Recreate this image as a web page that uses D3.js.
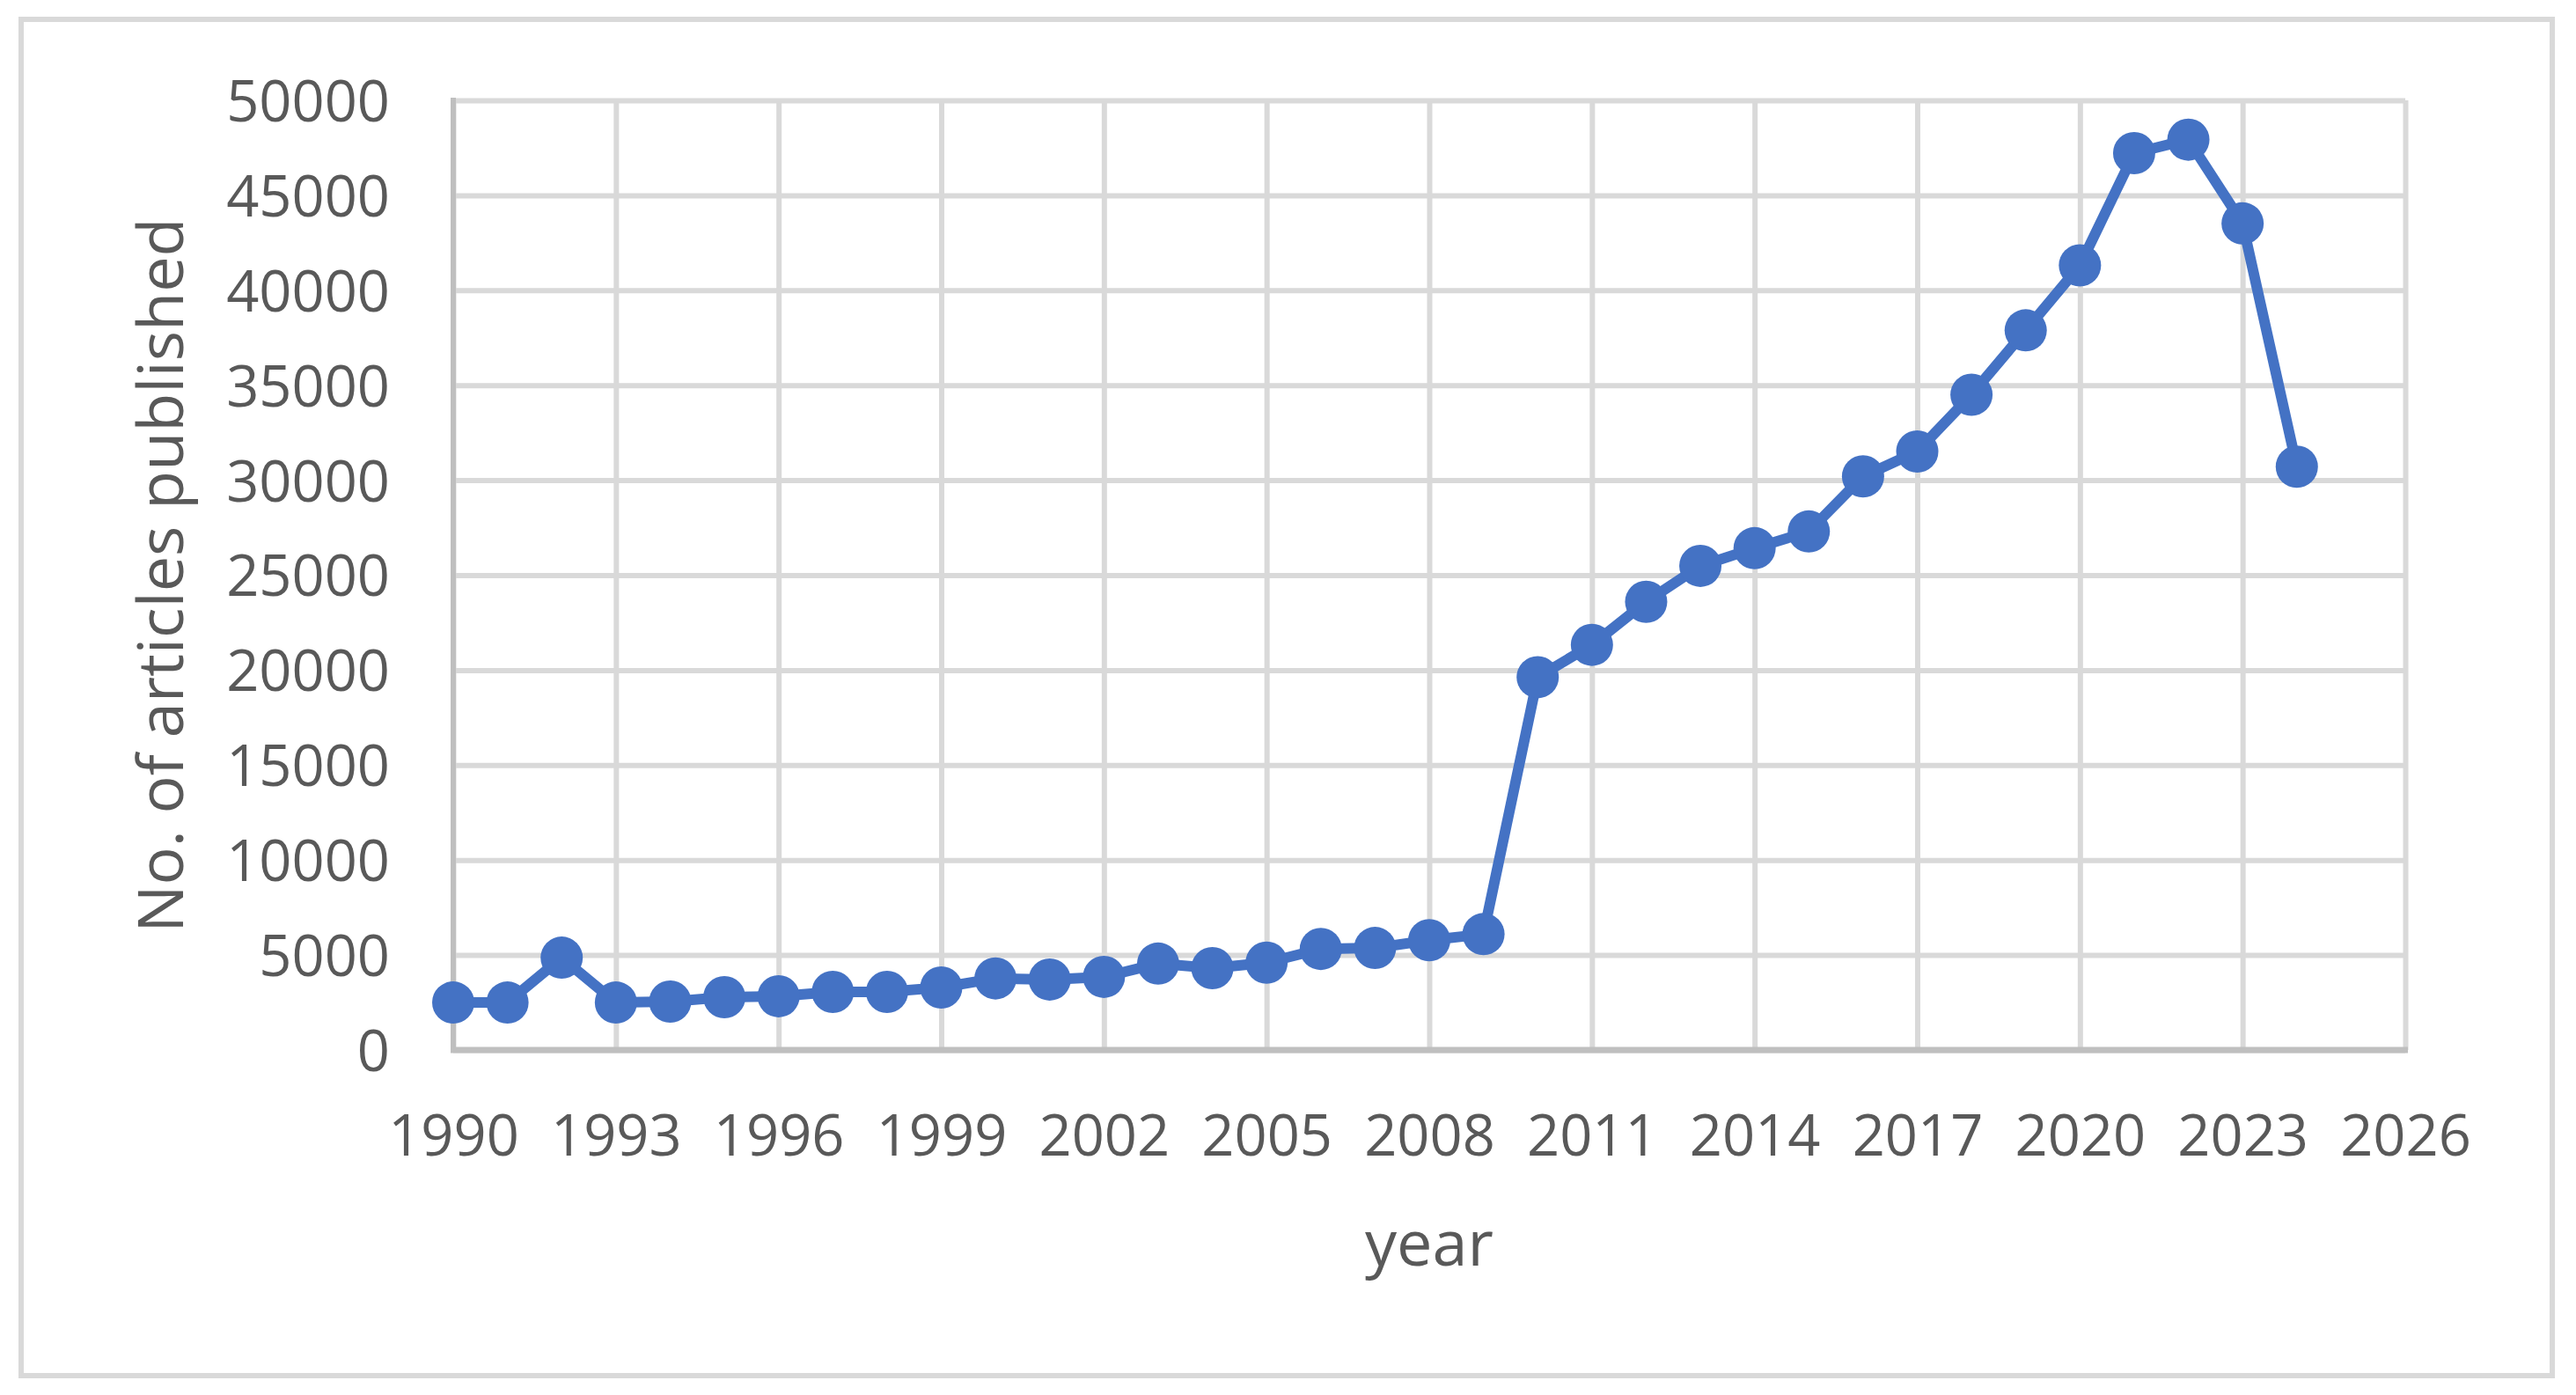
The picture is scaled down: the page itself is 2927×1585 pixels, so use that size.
<!DOCTYPE html>
<html>
<head>
<meta charset="utf-8">
<script src="https://cdn.jsdelivr.net/npm/d3@7"></script>
<style>
  body { margin: 0; background: #fff; }
  text { font-family: "Open Sans", "Noto Sans", sans-serif; fill: #595959; }
</style>
</head>
<body>
<div id="container"></div>
<script>
// data
const years = [1990, 1991, 1992, 1993, 1994, 1995, 1996, 1997, 1998, 1999,
               2000, 2001, 2002, 2003, 2004, 2005, 2006, 2007, 2008, 2009,
               2010, 2011, 2012, 2013, 2014, 2015, 2016, 2017, 2018, 2019,
               2020, 2021, 2022, 2023, 2024];
const articles = [2500, 2500, 4860, 2500, 2550, 2780, 2830, 3060, 3060, 3290,
                  3770, 3710, 3850, 4550, 4310, 4600, 5320, 5370, 5780, 6100,
                  19630, 21330, 23600, 25490, 26420, 27300, 30200, 31510, 34500, 37890,
                  41310, 47220, 47930, 43520, 30710];
const xTicks = [1990, 1993, 1996, 1999, 2002, 2005, 2008, 2011, 2014, 2017, 2020, 2023, 2026];
const yTicks = [0, 5000, 10000, 15000, 20000, 25000, 30000, 35000, 40000, 45000, 50000];
const xTitle = "year";
const yTitle = "No. of articles published";

const w = 2927; // canvas width
const h = 1585; // canvas height
const pL = 515, pR = 2733, pT = 114, pB = 1193; // plot area

const data = years.map((y, i) => ({ year: y, n: articles[i] }));

const svg = d3.select("#container").append("svg").attr("width", w).attr("height", h);

// outer chart border
svg.append("rect").attr("x", 24).attr("y", 22).attr("width", 2876).attr("height", 1541)
    .attr("fill", "#fff").attr("stroke", "#d9d9d9").attr("stroke-width", 6);

const xScale = d3.scaleLinear().domain([1990, 2026]).range([pL, pR]);
const yScale = d3.scaleLinear().domain([0, 50000]).range([pB, pT]);

// gridlines
const xGrid = d3.axisBottom(xScale).tickValues(xTicks).tickSize(-(pB - pT)).tickFormat("");
svg.append("g").attr("transform", `translate(0, ${pB})`).call(xGrid)
    .call(g => g.select(".domain").remove())
    .call(g => g.selectAll("line").attr("stroke", "#d9d9d9").attr("stroke-width", 6));

const yGrid = d3.axisLeft(yScale).tickValues(yTicks).tickSize(-(pR - pL)).tickFormat("");
svg.append("g").attr("transform", `translate(${pL}, 0)`).call(yGrid)
    .call(g => g.select(".domain").remove())
    .call(g => g.selectAll("line").attr("stroke", "#d9d9d9").attr("stroke-width", 6));

// axis lines
svg.append("line").attr("x1", pL).attr("x2", pL).attr("y1", pT - 3).attr("y2", pB)
    .attr("stroke", "#bfbfbf").attr("stroke-width", 6);
svg.append("line").attr("x1", pL - 3).attr("x2", pR + 3).attr("y1", pB).attr("y2", pB)
    .attr("stroke", "#bfbfbf").attr("stroke-width", 7);

// tick labels
const xAxis = d3.axisBottom(xScale).tickValues(xTicks).tickSize(0).tickPadding(0).tickFormat(d3.format("d"));
svg.append("g").attr("transform", `translate(0, ${pB})`).call(xAxis)
    .call(g => g.select(".domain").remove())
    .call(g => g.selectAll("text").attr("font-size", 65).attr("y", 120).attr("dy", 0)
        .attr("font-family", null).attr("fill", "#595959"));

const yAxis = d3.axisLeft(yScale).tickValues(yTicks).tickSize(0).tickPadding(72).tickFormat(d3.format("d"));
svg.append("g").attr("transform", `translate(${pL}, 0)`).call(yAxis)
    .call(g => g.select(".domain").remove())
    .call(g => g.selectAll("text").attr("font-size", 65).attr("dy", "0.36em")
        .attr("font-family", null).attr("fill", "#595959"));

// axis titles
svg.append("text").attr("x", (pL + pR) / 2).attr("y", 1438)
    .attr("text-anchor", "middle").attr("font-size", 72).text(xTitle);
svg.append("text").attr("transform", `translate(208, ${(pT + pB) / 2}) rotate(-90)`)
    .attr("text-anchor", "middle").attr("font-size", 72).text(yTitle);

// series
const line = d3.line().x(d => xScale(d.year)).y(d => yScale(d.n));
svg.append("path").datum(data).attr("d", line)
    .attr("fill", "none").attr("stroke", "#4472c4").attr("stroke-width", 12).attr("stroke-linejoin", "round");

svg.selectAll("circle").data(data).enter().append("circle")
    .attr("cx", d => xScale(d.year)).attr("cy", d => yScale(d.n)).attr("r", 24)
    .attr("fill", "#4472c4");
</script>
</body>
</html>
